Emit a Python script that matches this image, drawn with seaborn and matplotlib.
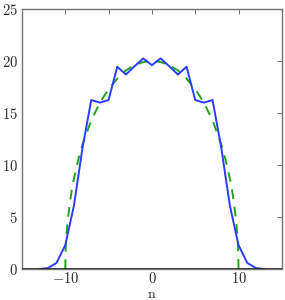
import numpy as np
import pandas as pd
import matplotlib
matplotlib.use("Agg")
import matplotlib.pyplot as plt
import seaborn as sns

# measured distribution (blue)
n_vals = list(range(-13, 14))
counts = [0, 0.1, 0.6, 2.3, 6.1, 11.7, 16.25, 16.0, 16.25, 19.45, 18.7, 19.5, 20.25, 19.6,
          20.25, 19.5, 18.7, 19.45, 16.25, 16.0, 16.25, 11.7, 6.1, 2.3, 0.6, 0.1, 0]

# fitted curve (green dashed)
fit_n = [-10, -9.95, -9.9, -9.75, -9.5, -9.25, -9, -8.5, -8, -7, -6, -5, -4, -3, -2, -1, 0,
         1, 2, 3, 4, 5, 6, 7, 8, 8.5, 9, 9.25, 9.5, 9.75, 9.9, 9.95, 10]
fit_y = [0, 2.0, 2.8, 4.4, 6.2, 7.6, 8.7, 10.5, 12.0, 14.3, 16.0, 17.3, 18.3, 19.1, 19.6, 19.9, 20,
         19.9, 19.6, 19.1, 18.3, 17.3, 16.0, 14.3, 12.0, 10.5, 8.7, 7.6, 6.2, 4.4, 2.8, 2.0, 0]

df = pd.DataFrame({"n": n_vals, "count": counts})
fit = pd.DataFrame({"n": fit_n, "y": fit_y})

sns.set_style("white")
plt.rcParams["mathtext.fontset"] = "cm"
plt.rcParams["font.family"] = ["DejaVu Serif"]

fig = plt.figure(figsize=(2.85, 3.0), dpi=100)
ax = fig.add_axes([0.077, 0.103, 0.912, 0.867])

sns.lineplot(data=fit, x="n", y="y", ax=ax, color="#22a31c", lw=1.4,
             linestyle=(0, (5, 4)), sort=False)
sns.lineplot(data=df, x="n", y="count", ax=ax, color="#2a3cff", lw=1.4)
ax.axhline(0, color="#222222", lw=1.2, zorder=3)

ax.set_xlim(-15, 15)
ax.set_ylim(0, 25)
xt = [-15, -10, -5, 0, 5, 10, 15]
ax.set_xticks(xt)
ax.set_xticklabels(["", "$-10$", "", "$0$", "", "$10$", ""])
yt = [0, 5, 10, 15, 20, 25]
ax.set_yticks(yt)
ax.set_yticklabels(["$%d$" % v for v in yt])
ax.tick_params(direction="in", length=3.5, width=0.6, color="0.35", labelsize=10.5,
               top=True, right=True, pad=3)
ax.tick_params(axis="x", pad=1.5)
for s in ax.spines.values():
    s.set_color("0.45")
    s.set_linewidth(1.0)
ax.set_xlabel(r"$\mathrm{n}$", fontsize=10)
ax.xaxis.set_label_coords(0.5, -0.067)
ax.set_ylabel("")

fig.savefig("out.png", dpi=100)
